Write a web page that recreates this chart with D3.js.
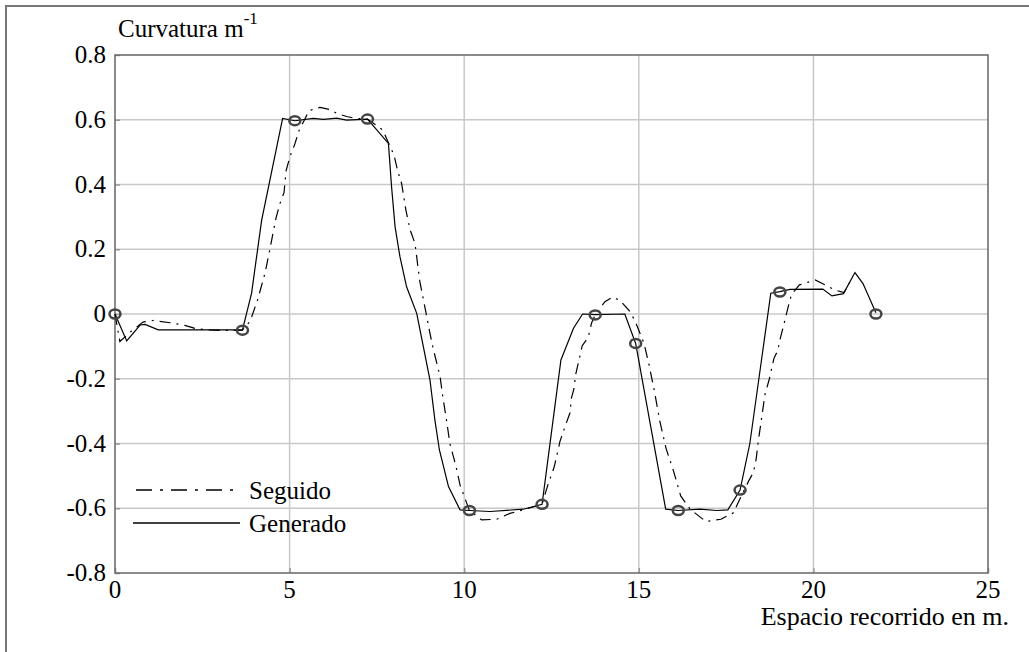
<!DOCTYPE html>
<html>
<head>
<meta charset="utf-8">
<script src="https://cdn.jsdelivr.net/npm/d3@7"></script>
<style>
  body { margin: 0; background: white; }
  text { font-family: "Liberation Serif", "Times New Roman", serif; fill: #000; }
</style>
</head>
<body>
<div id="canvas"></div>
<script>
// Generado (solid line)
var genX = [0, 0.335, 0.72, 0.86, 1.24, 3.65, 3.91, 4.2, 4.8, 5.15, 5.68, 5.97, 6.35, 6.63, 7.23,
            7.83, 7.92, 8.02, 8.16, 8.35, 8.64, 8.83, 9.02, 9.16, 9.29, 9.55, 9.88, 10.15, 10.74,
            11.69, 12.23, 12.77, 13.13, 13.39, 13.75, 14.6, 14.91, 15.77, 16.13, 16.75, 17.23,
            17.55, 17.9, 18.18, 18.78, 19.04, 19.33, 20.27, 20.53, 20.86, 21.19, 21.42, 21.79];
var genY = [0, -0.083, -0.034, -0.032, -0.049, -0.049, 0.064, 0.29, 0.604, 0.597, 0.604, 0.601, 0.605, 0.599, 0.602,
            0.527, 0.393, 0.27, 0.177, 0.084, 0.002, -0.101, -0.204, -0.327, -0.42, -0.533, -0.605, -0.607, -0.61,
            -0.603, -0.588, -0.142, -0.044, 0, -0.002, 0, -0.091, -0.603, -0.607, -0.603, -0.607,
            -0.605, -0.544, -0.4, 0.064, 0.069, 0.076, 0.077, 0.056, 0.063, 0.128, 0.094, 0.004];

// Seguido (dash-dot line)
var segX = [0, 0.14, 0.45, 0.8, 1.1, 1.58, 2.0, 2.34, 2.7, 3.12, 3.65, 3.87, 4.09, 4.3, 4.44, 4.61, 4.72,
            4.84, 4.9, 5.01, 5.15, 5.28, 5.41, 5.55, 5.87, 6.14, 6.35, 6.63, 6.9, 7.23, 7.67, 7.99, 8.1,
            8.21, 8.33, 8.45, 8.59, 8.73, 8.9, 9.02, 9.1, 9.31, 9.38, 9.5, 9.59, 9.71, 9.8, 9.88, 10.02,
            10.15, 10.5, 10.93, 11.31, 11.69, 12.23, 12.41, 12.57, 12.7, 12.74, 12.92, 13.03, 13.07, 13.14,
            13.19, 13.27, 13.38, 13.55, 13.65, 13.75, 14.03, 14.25, 14.46, 14.73, 14.89, 15.01, 15.15,
            15.3, 15.45, 15.6, 15.78, 16.0, 16.2, 16.47, 16.92, 17.35, 17.71, 17.9, 18.16, 18.28, 18.36,
            18.42, 18.53, 18.61, 18.74, 18.87, 18.98, 19.04, 19.12, 19.28, 19.37, 19.6, 20.05, 20.24,
            20.62, 20.88, 21.05];
var segY = [0, -0.085, -0.055, -0.025, -0.02, -0.027, -0.035, -0.046, -0.049, -0.051, -0.05, -0.022, 0.046, 0.128, 0.203, 0.296, 0.34,
            0.375, 0.443, 0.486, 0.525, 0.57, 0.596, 0.628, 0.638, 0.632, 0.62, 0.61, 0.604, 0.602, 0.568, 0.491, 0.44,
            0.402, 0.321, 0.26, 0.218, 0.1, 0.007, -0.06, -0.101, -0.194, -0.25, -0.333, -0.4, -0.448, -0.487, -0.528, -0.569,
            -0.607, -0.636, -0.634, -0.616, -0.605, -0.588, -0.523, -0.475, -0.415, -0.394, -0.338, -0.305, -0.26, -0.232,
            -0.188, -0.15, -0.098, -0.072, -0.027, -0.003, 0.038, 0.052, 0.042, 0.01, -0.021, -0.053, -0.091,
            -0.16, -0.24, -0.33, -0.415, -0.487, -0.562, -0.603, -0.641, -0.634, -0.614, -0.57, -0.513, -0.49, -0.449,
            -0.394, -0.312, -0.25, -0.2, -0.137, -0.113, -0.08, -0.047, 0.023, 0.059, 0.09, 0.105, 0.095,
            0.074, 0.066, 0.1];

// circle markers
var markX = [0, 3.65, 5.15, 7.23, 10.15, 12.23, 13.75, 14.91, 16.13, 17.9, 19.04, 21.79];
var markY = [0, -0.05, 0.597, 0.602, -0.607, -0.588, -0.003, -0.091, -0.607, -0.544, 0.068, 0];

var xTicks = [0, 5, 10, 15, 20, 25];
var yTicks = [-0.8, -0.6, -0.4, -0.2, 0, 0.2, 0.4, 0.6, 0.8];
var yTickLabels = ["-0.8", "-0.6", "-0.4", "-0.2", "0", "0.2", "0.4", "0.6", "0.8"];
var legendNames = ["Seguido", "Generado"];

var W = 1029, H = 652;
var pLeft = 115, pRight = 988, pTop = 55, pBottom = 573;

var svg = d3.select("#canvas")
            .append("svg")
            .attr("width", W)
            .attr("height", H)
            .style("display", "block")
            .style("background-color", "white");

// outer frame
svg.append("path")
   .attr("d", "M6," + H + "V6H" + W)
   .attr("fill", "none")
   .attr("stroke", "#777")
   .attr("stroke-width", 2);

var x = d3.scaleLinear().domain([0, 25]).range([pLeft, pRight]);
var y = d3.scaleLinear().domain([-0.8, 0.8]).range([pBottom, pTop]);

// grid
svg.append("g").selectAll("line")
   .data(xTicks.slice(1, -1))
   .enter().append("line")
   .attr("x1", function (d) { return x(d); })
   .attr("x2", function (d) { return x(d); })
   .attr("y1", pTop).attr("y2", pBottom)
   .attr("stroke", "#c8c8c8").attr("stroke-width", 1.5);

svg.append("g").selectAll("line")
   .data(yTicks.slice(1, -1))
   .enter().append("line")
   .attr("y1", function (d) { return y(d); })
   .attr("y2", function (d) { return y(d); })
   .attr("x1", pLeft).attr("x2", pRight)
   .attr("stroke", "#c8c8c8").attr("stroke-width", 1.5);

// axes (ticks pointing inward, labels drawn separately)
var xAxis = svg.append("g")
   .attr("transform", "translate(0," + pBottom + ")")
   .call(d3.axisTop(x).tickValues(xTicks).tickSize(5).tickFormat(""));
var yAxis = svg.append("g")
   .attr("transform", "translate(" + pLeft + ",0)")
   .call(d3.axisRight(y).tickValues(yTicks).tickSize(5).tickFormat(""));
[xAxis, yAxis].forEach(function (a) {
  a.select(".domain").remove();
  a.selectAll("line").attr("stroke", "#999").attr("stroke-width", 1.5);
});

// plot box
svg.append("rect")
   .attr("x", pLeft).attr("y", pTop)
   .attr("width", pRight - pLeft).attr("height", pBottom - pTop)
   .attr("fill", "none")
   .attr("stroke", "#666")
   .attr("stroke-width", 1.5);

// tick labels
svg.append("g").selectAll("text")
   .data(yTicks)
   .enter().append("text")
   .attr("x", pLeft - 9)
   .attr("y", function (d) { return y(d) + 8; })
   .attr("text-anchor", "end")
   .style("font-size", "25px")
   .text(function (d, i) { return yTickLabels[i]; });

svg.append("g").selectAll("text")
   .data(xTicks)
   .enter().append("text")
   .attr("x", function (d) { return x(d); })
   .attr("y", pBottom + 25)
   .attr("text-anchor", "middle")
   .style("font-size", "25px")
   .text(function (d) { return d; });

// axis titles
var yTitle = svg.append("text")
   .attr("x", 118).attr("y", 37)
   .style("font-size", "25px");
yTitle.append("tspan").text("Curvatura m");
yTitle.append("tspan").attr("dy", -13).style("font-size", "17px").text("-1");

svg.append("text")
   .attr("x", 1009).attr("y", 625)
   .attr("text-anchor", "end")
   .style("font-size", "26px")
   .text("Espacio recorrido en m.");

// series
var line = d3.line()
   .x(function (d) { return x(d[0]); })
   .y(function (d) { return y(d[1]); });

var segData = d3.zip(segX, segY);
var genData = d3.zip(genX, genY);

svg.append("path")
   .datum(segData)
   .attr("d", line)
   .attr("fill", "none")
   .attr("stroke", "#000")
   .attr("stroke-width", 1.2)
   .attr("stroke-dasharray", "11,6,2,6");

svg.append("path")
   .datum(genData)
   .attr("d", line)
   .attr("fill", "none")
   .attr("stroke", "#000")
   .attr("stroke-width", 1.2);

svg.append("g").selectAll("ellipse")
   .data(d3.zip(markX, markY))
   .enter().append("ellipse")
   .attr("cx", function (d) { return x(d[0]); })
   .attr("cy", function (d) { return y(d[1]); })
   .attr("rx", 5.5).attr("ry", 4.5)
   .attr("fill", "none")
   .attr("stroke", "#444")
   .attr("stroke-width", 2.5);

// legend
var legend = svg.append("g");
var dashes = ["16,8,3,8", null];
legendNames.forEach(function (name, i) {
  var ly = 490 + i * 33;
  legend.append("line")
     .attr("x1", 136 - i * 3).attr("x2", 240)
     .attr("y1", ly).attr("y2", ly)
     .attr("stroke", "#000")
     .attr("stroke-width", 1.5)
     .attr("stroke-dasharray", dashes[i]);
  legend.append("text")
     .attr("x", 249).attr("y", ly + 9)
     .style("font-size", "25px")
     .text(name);
});
</script>
</body>
</html>
